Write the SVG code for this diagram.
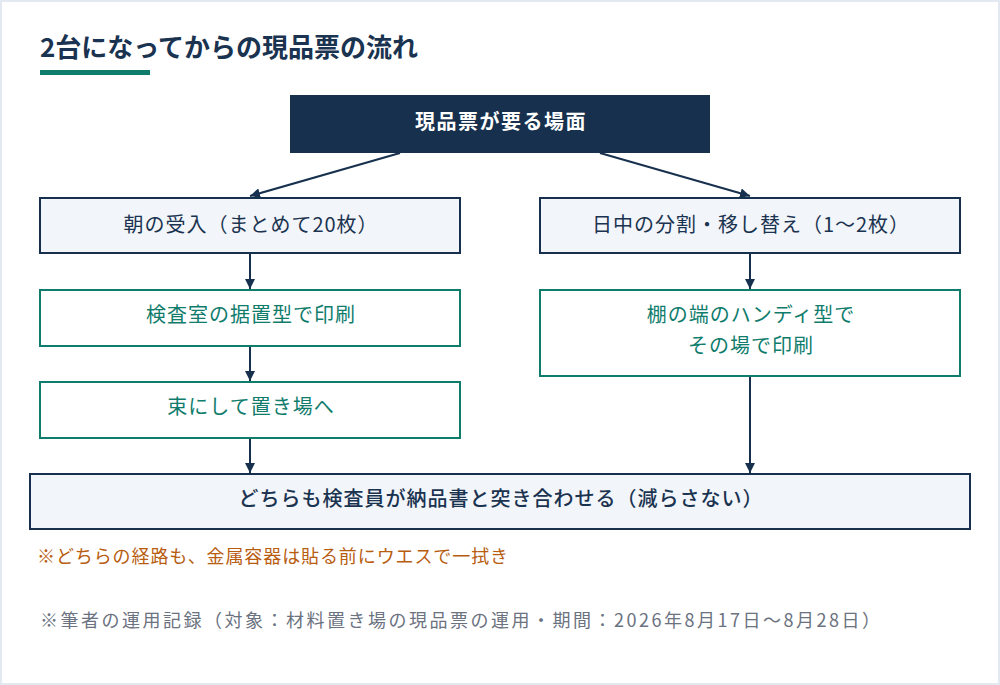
<svg xmlns="http://www.w3.org/2000/svg" width="1000" height="685" viewBox="0 0 1000 685">
<style>
text{font-family:"Noto Sans CJK JP","Noto Sans",sans-serif;}
.dark{fill:#17304d;}
.box{fill:#f2f5f9;stroke:#17304d;stroke-width:2;}
.gbox{fill:#ffffff;stroke:#0f7c6c;stroke-width:2;}
.t{font-size:20px;letter-spacing:1px;fill:#1a3350;text-anchor:middle;dominant-baseline:central;}
.g{font-size:20px;letter-spacing:1px;fill:#0f7c6c;text-anchor:middle;dominant-baseline:central;}
.edge{stroke:#17304d;stroke-width:2;fill:none;marker-end:url(#ah);}
</style>
<defs>
<marker id="ah" viewBox="0 0 10 10" refX="10" refY="5" markerWidth="5" markerHeight="5" orient="auto" markerUnits="strokeWidth">
<path d="M0,0 L10,5 L0,10 z" fill="#17304d"/>
</marker>
</defs>
<rect x="0" y="0" width="1000" height="685" fill="#e3e9f1"/>
<rect x="2" y="2" width="996" height="681" fill="#ffffff"/>
<g id="title">
<text x="40" y="57" font-size="26" font-weight="700" fill="#1a3350">2台になってからの現品票の流れ</text>
<rect x="40" y="70" width="110" height="5" fill="#0f7c6c"/>
</g>
<g id="connectors">
<line class="edge" x1="400" y1="153" x2="250" y2="196"/>
<line class="edge" x1="600" y1="153" x2="750" y2="196"/>
<line class="edge" x1="250" y1="254" x2="250" y2="289"/>
<line class="edge" x1="250" y1="347" x2="250" y2="381"/>
<line class="edge" x1="250" y1="439" x2="250" y2="473"/>
<line class="edge" x1="750" y1="254" x2="750" y2="289"/>
<line class="edge" x1="750" y1="377" x2="750" y2="473"/>
</g>
<g id="n-top">
<rect x="290" y="95" width="420" height="58" class="dark"/>
<text x="501" y="120" font-size="20" letter-spacing="1.5" font-weight="700" fill="#ffffff" text-anchor="middle" dominant-baseline="central">現品票が要る場面</text>
</g>
<g id="n-morning">
<rect x="40" y="198" width="420" height="55" class="box"/>
<text x="251" y="223" class="t">朝の受入（まとめて20枚）</text>
</g>
<g id="n-day">
<rect x="540" y="198" width="420" height="55" class="box"/>
<text x="751" y="223" class="t">日中の分割・移し替え（1〜2枚）</text>
</g>
<g id="n-print-fixed">
<rect x="40" y="290" width="420" height="56" class="gbox"/>
<text x="251" y="313" class="g">検査室の据置型で印刷</text>
</g>
<g id="n-bundle">
<rect x="40" y="382" width="420" height="56" class="gbox"/>
<text x="251" y="405" class="g">束にして置き場へ</text>
</g>
<g id="n-handy">
<rect x="540" y="290" width="420" height="86" class="gbox"/>
<text x="751" y="313" class="g">棚の端のハンディ型で</text>
<text x="751" y="344" class="g">その場で印刷</text>
</g>
<g id="n-check">
<rect x="30" y="474" width="940" height="55" class="box"/>
<text x="501" y="497" font-size="20" letter-spacing="1" font-weight="500" fill="#1a3350" text-anchor="middle" dominant-baseline="central">どちらも検査員が納品書と突き合わせる（減らさない）</text>
</g>
<g id="notes">
<text x="37" y="563" font-size="18" letter-spacing="0.9" fill="#b85c10">※どちらの経路も、金属容器は貼る前にウエスで一拭き</text>
<text x="40" y="627" font-size="18" letter-spacing="2.5" fill="#6b7280">※筆者の運用記録（対象：材料置き場の現品票の運用・期間：2026年8月17日〜8月28日）</text>
</g>
</svg>
